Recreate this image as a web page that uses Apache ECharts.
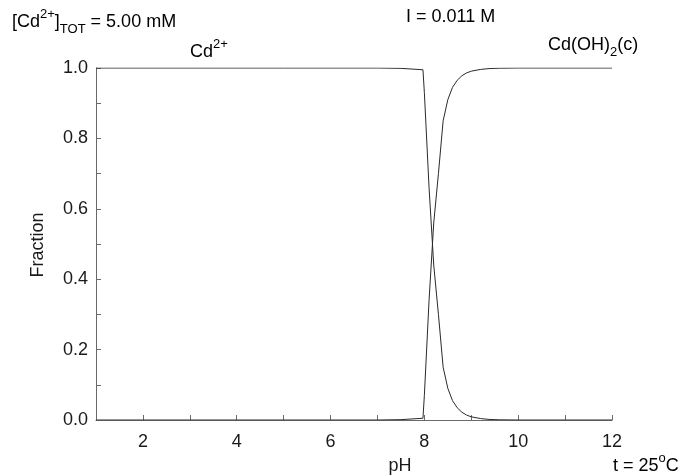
<!DOCTYPE html>
<html>
<head>
<meta charset="utf-8">
<script src="https://cdn.jsdelivr.net/npm/echarts@6/dist/echarts.min.js"></script>
<style>html,body{margin:0;padding:0;background:#fff}#c{width:695px;height:475px}</style>
</head>
<body>
<div id="c"></div>
<script>
// pH grid
const pH = [1, 2, 3, 4, 5, 6, 7, 7.5, 7.97, 8.0, 8.1, 8.2, 8.3, 8.4, 8.5, 8.6, 8.7, 8.8, 8.9, 9.0, 9.2, 9.4, 9.6, 10, 11, 12];
// fraction of free Cd2+
const cdFree = [1, 1, 1, 1, 1, 1, 1, 0.999, 0.995, 0.93, 0.66, 0.44, 0.30, 0.15, 0.09, 0.055, 0.035, 0.022, 0.014, 0.009, 0.004, 0.0015, 0.0006, 0, 0, 0];
// fraction of solid Cd(OH)2(c)
const cdSolid = [0, 0, 0, 0, 0, 0, 0, 0.001, 0.005, 0.07, 0.34, 0.56, 0.70, 0.85, 0.91, 0.945, 0.965, 0.978, 0.986, 0.991, 0.996, 0.9985, 0.9994, 1, 1, 1];
const xTicks = [2, 4, 6, 8, 10, 12];
const yTicks = [0.0, 0.2, 0.4, 0.6, 0.8, 1.0];

const chart = echarts.init(document.getElementById('c'), null, {renderer: 'canvas'});
const font = 'Liberation Sans, Arial, Helvetica, sans-serif';
const txt = '#1a1a1a';
const lineCol = '#2a2a2a';
const axisCol = '#6a6a6a';

function pairs(xs, ys) { return xs.map((x, i) => [x, ys[i]]); }

const rich = {
  m: {fontSize: 18, fontFamily: font, color: txt, lineHeight: 28, verticalAlign: 'middle'},
  sup: {fontSize: 13, fontFamily: font, color: txt, lineHeight: 14, verticalAlign: 'top'},
  sub: {fontSize: 13, fontFamily: font, color: txt, lineHeight: 14, verticalAlign: 'bottom'}
};

chart.setOption({
  animation: false,
  backgroundColor: '#fff',
  grid: {left: 96, right: 83, top: 68, bottom: 55},
  xAxis: {
    type: 'value', min: 1, max: 12, interval: 1,
    axisLine: {lineStyle: {color: axisCol, width: 1}},
    axisTick: {inside: true, length: 5, lineStyle: {color: axisCol}},
    splitLine: {show: false},
    axisLabel: {
      margin: 13, fontSize: 18, fontFamily: font, color: txt,
      formatter: v => (xTicks.indexOf(Math.round(v)) >= 0 ? String(Math.round(v)) : '')
    }
  },
  yAxis: {
    type: 'value', min: 0, max: 1, interval: 0.1,
    axisLine: {show: true, lineStyle: {color: axisCol, width: 1}},
    axisTick: {show: true, inside: true, length: 5, lineStyle: {color: axisCol}},
    splitLine: {show: false},
    axisLabel: {
      margin: 8, fontSize: 18, fontFamily: font, color: txt,
      formatter: v => {
        const r = Math.round(v * 10) / 10;
        return yTicks.some(t => Math.abs(t - r) < 1e-9) ? r.toFixed(1) : '';
      }
    }
  },
  series: [
    {type: 'line', data: pairs(pH, cdFree), showSymbol: false, lineStyle: {color: lineCol, width: 1}, z: 3},
    {type: 'line', data: pairs(pH, cdSolid), showSymbol: false, lineStyle: {color: lineCol, width: 1}, z: 3}
  ],
  graphic: [
    {type: 'text', left: 12, top: 8, style: {text: '{m|[Cd}{sup|2+}{m|]}{sub|TOT}{m| = 5.00 mM}', rich: rich}},
    {type: 'text', left: 406, top: 8, style: {text: '{m|I = 0.011 M}', rich: rich}},
    {type: 'text', left: 190, top: 38, style: {text: '{m|Cd}{sup|2+}', rich: rich}},
    {type: 'text', left: 548, top: 36, style: {text: '{m|Cd(OH)}{sub|2}{m|(c)}', rich: rich}},
    {type: 'text', x: 400, y: 466, style: {text: 'pH', fontSize: 18, fontFamily: font, fill: txt, textAlign: 'center', textVerticalAlign: 'middle'}},
    {type: 'text', left: 613, top: 452, style: {text: '{m|t = 25}{sup|o}{m|C}', rich: rich}},
    {type: 'text', x: 38, y: 245, rotation: Math.PI / 2, style: {text: 'Fraction', fontSize: 18, fontFamily: font, fill: txt, textAlign: 'center', textVerticalAlign: 'middle'}}
  ]
});
</script>
</body>
</html>
